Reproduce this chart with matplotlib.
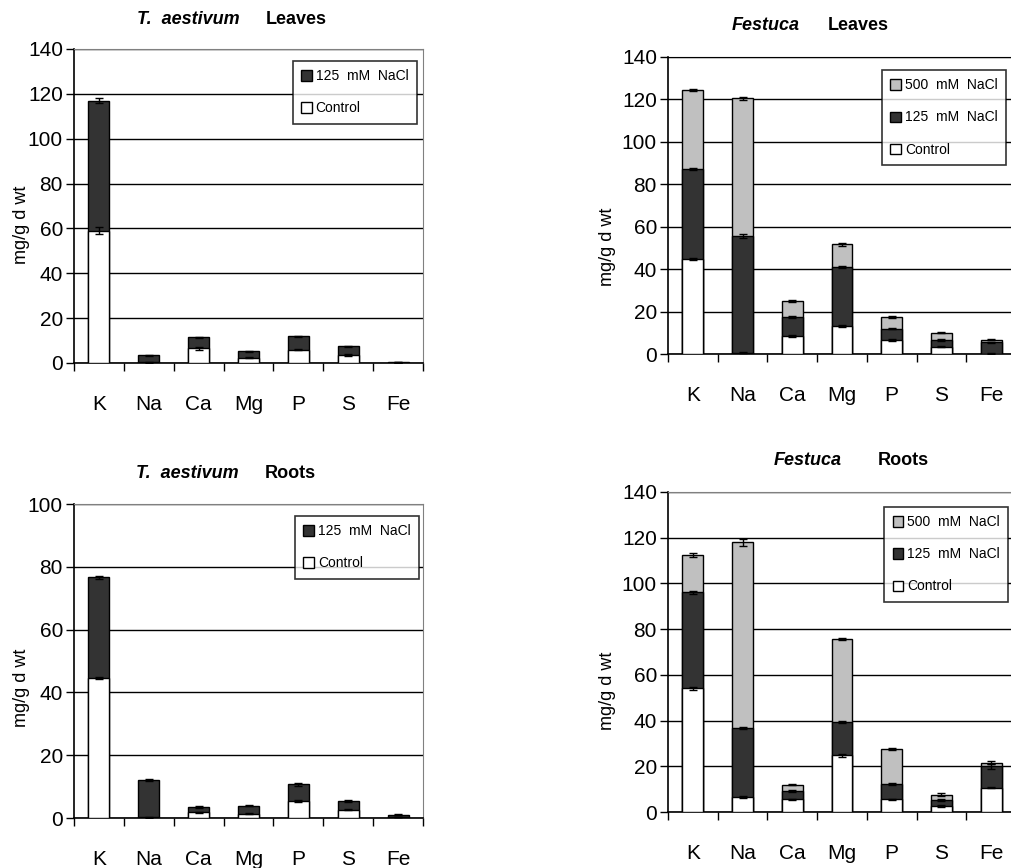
import matplotlib.pyplot as plt
import numpy as np

plt.rcParams['font.family'] = ['Liberation Sans Narrow', 'Liberation Sans', 'DejaVu Sans']

elements = ["K", "Na", "Ca", "Mg", "P", "S", "Fe"]

# T. aestivum leaves
wheat_leaf_ctrl = [59.0, 0.3, 6.5, 2.4, 5.9, 3.6, 0.1]
wheat_leaf_125 = [117.0, 3.4, 11.4, 5.2, 11.9, 7.4, 0.3]
wheat_leaf_ctrl_err = [1.5, 0.1, 0.5, 0.3, 0.3, 0.4, 0.0]
wheat_leaf_125_err = [1.0, 0.2, 0.3, 0.2, 0.3, 0.3, 0.0]

# T. aestivum roots
wheat_root_ctrl = [44.6, 0.2, 1.8, 1.4, 5.4, 2.7, 0.3]
wheat_root_125 = [76.7, 12.2, 3.5, 3.9, 10.7, 5.5, 1.1]
wheat_root_ctrl_err = [0.4, 0.1, 0.2, 0.2, 0.3, 0.2, 0.1]
wheat_root_125_err = [0.5, 0.3, 0.2, 0.2, 0.4, 0.3, 0.1]

# Festuca leaves
fest_leaf_ctrl = [44.8, 0.6, 8.3, 13.2, 6.6, 3.5, 0.2]
fest_leaf_125 = [87.3, 55.8, 17.5, 40.9, 12.0, 6.6, 5.5]
fest_leaf_500 = [124.6, 120.5, 25.0, 51.8, 17.5, 10.1, 6.8]
fest_leaf_ctrl_err = [0.6, 0.3, 0.5, 0.4, 0.4, 0.3, 0.2]
fest_leaf_125_err = [0.6, 1.0, 0.4, 0.5, 0.4, 0.4, 0.3]
fest_leaf_500_err = [0.5, 0.6, 0.4, 0.7, 0.4, 0.4, 0.3]

# Festuca roots
fest_root_ctrl = [54.2, 6.7, 5.5, 24.8, 5.5, 2.5, 10.7]
fest_root_125 = [96.1, 36.9, 9.1, 39.4, 12.4, 5.3, 20.0]
fest_root_500 = [112.4, 118.0, 12.0, 75.8, 27.6, 7.6, 21.6]
fest_root_ctrl_err = [0.7, 0.5, 0.3, 0.6, 0.3, 0.4, 0.4]
fest_root_125_err = [0.6, 0.5, 0.4, 0.4, 0.4, 0.5, 1.0]
fest_root_500_err = [0.8, 1.5, 0.3, 0.5, 0.3, 0.5, 0.8]

W, H = 1011, 868
C_500, C_125, C_CTRL = "#c0c0c0", "#333333", "white"


def px_rect(left, right, top, bottom):
    return [left / W, 1 - bottom / H, (right - left) / W, (bottom - top) / H]


def draw_panel(fig, rect, series, ymax, legend_box, top_color="#808080"):
    ax = fig.add_axes(rect)
    x = np.arange(len(elements))
    handles = []
    for i, (vals, errs, color, label) in enumerate(series):
        b = ax.bar(x, vals, width=0.42, color=color, edgecolor="black",
                   linewidth=1.0, zorder=2 + i, label=label)
        ax.errorbar(x, vals, yerr=errs, fmt="none", ecolor="black",
                    elinewidth=1.0, capsize=3, capthick=1.0, zorder=2.5 + i)
        handles.append(b)
    ax.set_xlim(-0.5, len(elements) - 0.5)
    ax.set_ylim(0, ymax)
    ax.set_yticks(np.arange(0, ymax + 1, 20))
    ax.set_axisbelow(True)
    ax.grid(axis="y", color="black", linewidth=1.0)
    ax.tick_params(axis="y", direction="out", length=6, width=1,
                   labelsize=15, pad=2)
    ax.set_xticks(x)
    ax.set_xticklabels(elements)
    ax.tick_params(axis="x", which="major", length=0, labelsize=15, pad=23)
    ax.set_xticks(np.arange(-0.5, len(elements)), minor=True)
    ax.tick_params(axis="x", which="minor", direction="out", length=6, width=1)
    for s in ["left", "bottom"]:
        ax.spines[s].set_color("black")
        ax.spines[s].set_linewidth(1.2)
    ax.spines["right"].set_color("#808080")
    ax.spines["top"].set_color(top_color)
    leg = ax.legend(handles, [h.get_label() for h in handles],
                    loc="upper left", bbox_to_anchor=legend_box,
                    borderaxespad=0, frameon=True, fancybox=False,
                    edgecolor="black", fontsize=10, handlelength=0.75,
                    handleheight=0.75, handletextpad=0.3, labelspacing=1.3,
                    borderpad=0.6)
    leg.get_frame().set_linewidth(1.2)
    leg.set_zorder(10)
    return ax


def title(fig, species, part, x_end, x_start, y):
    fig.text(x_end / W, 1 - y / H, species, ha="right", va="center",
             fontsize=13, fontweight="bold", fontstyle="italic")
    fig.text(x_start / W, 1 - y / H, part, ha="left", va="center",
             fontsize=13, fontweight="bold")


def ylabel(fig, x, y):
    fig.text(x / W, 1 - y / H, "mg/g d wt", rotation=90, ha="center",
             va="center", fontsize=13)


fig = plt.figure(figsize=(W / 100, H / 100), dpi=100)

draw_panel(fig, px_rect(74, 423, 49, 363),
           [(wheat_leaf_125, wheat_leaf_125_err, C_125, "125  mM  NaCl"),
            (wheat_leaf_ctrl, wheat_leaf_ctrl_err, C_CTRL, "Control")],
           140, (0.627, 0.962))
draw_panel(fig, px_rect(74, 423, 504, 818),
           [(wheat_root_125, wheat_root_125_err, C_125, "125  mM  NaCl"),
            (wheat_root_ctrl, wheat_root_ctrl_err, C_CTRL, "Control")],
           100, (0.633, 0.962))
draw_panel(fig, px_rect(668, 1016, 57, 354),
           [(fest_leaf_500, fest_leaf_500_err, C_500, "500  mM  NaCl"),
            (fest_leaf_125, fest_leaf_125_err, C_125, "125  mM  NaCl"),
            (fest_leaf_ctrl, fest_leaf_ctrl_err, C_CTRL, "Control")],
           140, (0.615, 0.956), top_color="black")
draw_panel(fig, px_rect(668, 1016, 492, 812),
           [(fest_root_500, fest_root_500_err, C_500, "500  mM  NaCl"),
            (fest_root_125, fest_root_125_err, C_125, "125  mM  NaCl"),
            (fest_root_ctrl, fest_root_ctrl_err, C_CTRL, "Control")],
           140, (0.622, 0.953), top_color="#808080")

title(fig, "T.  aestivum", "Leaves", 240, 266, 20)
title(fig, "Festuca", "Leaves", 800, 828, 25)
title(fig, "T.  aestivum", "Roots", 239, 265, 473)
title(fig, "Festuca", "Roots", 842, 878, 460)

ylabel(fig, 21, 225)
ylabel(fig, 607, 247)
ylabel(fig, 21, 688)
ylabel(fig, 607, 691)

fig.savefig("out.png", dpi=100)
